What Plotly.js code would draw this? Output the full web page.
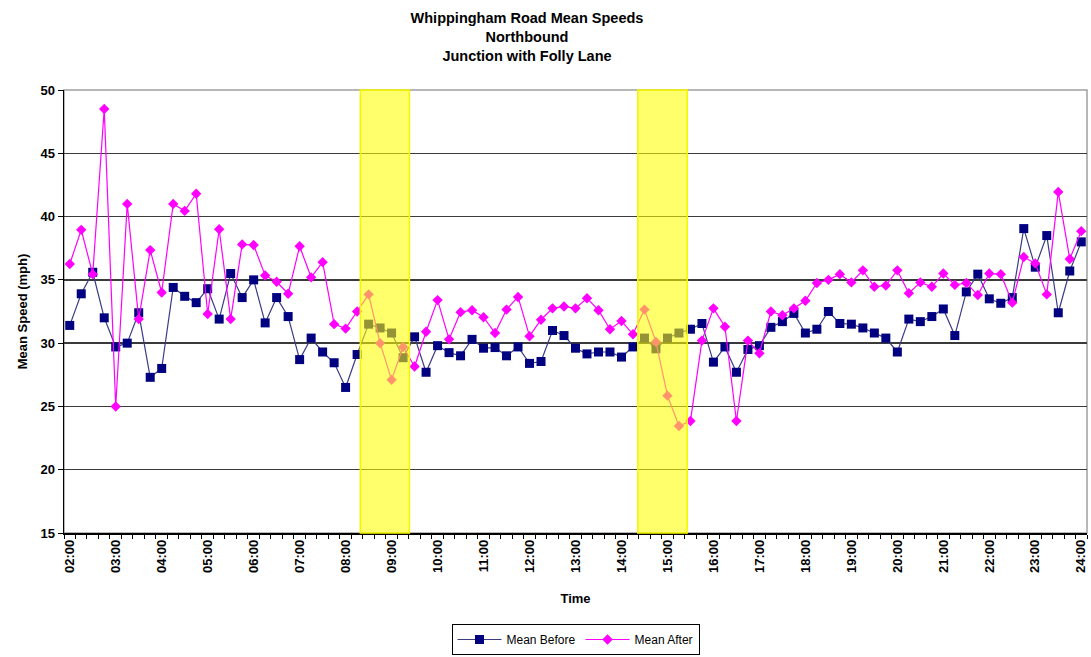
<!DOCTYPE html>
<html>
<head>
<meta charset="utf-8">
<script src="https://cdn.plot.ly/plotly-3.0.1.min.js"></script>
<style>html,body{margin:0;padding:0;background:#fff;}#chart{width:1091px;height:657px;}</style>
</head>
<body>
<div id="chart"></div>
<script>
const times = [
"02:00","02:15","02:30","02:45","03:00","03:15","03:30","03:45",
"04:00","04:15","04:30","04:45","05:00","05:15","05:30","05:45",
"06:00","06:15","06:30","06:45","07:00","07:15","07:30","07:45",
"08:00","08:15","08:30","08:45","09:00","09:15","09:30","09:45",
"10:00","10:15","10:30","10:45","11:00","11:15","11:30","11:45",
"12:00","12:15","12:30","12:45","13:00","13:15","13:30","13:45",
"14:00","14:15","14:30","14:45","15:00","15:15","15:30","15:45",
"16:00","16:15","16:30","16:45","17:00","17:15","17:30","17:45",
"18:00","18:15","18:30","18:45","19:00","19:15","19:30","19:45",
"20:00","20:15","20:30","20:45","21:00","21:15","21:30","21:45",
"22:00","22:15","22:30","22:45","23:00","23:15","23:30","23:45",
"24:00"];

const meanBefore = [
31.4,33.9,35.6,32.0,29.7,30.0,32.4,27.3,
28.0,34.4,33.7,33.2,34.3,31.9,35.5,33.6,
35.0,31.6,33.6,32.1,28.7,30.4,29.3,28.45,
26.5,29.1,31.5,31.2,30.8,28.85,30.5,27.7,
29.8,29.25,29.0,30.3,29.6,29.65,29.0,29.7,
28.4,28.55,31.0,30.6,29.6,29.15,29.3,29.3,
28.9,29.7,30.4,29.55,30.4,30.8,31.1,31.55,
28.5,29.7,27.7,29.5,29.8,31.25,31.7,32.35,
30.8,31.1,32.5,31.55,31.5,31.2,30.8,30.4,
29.3,31.9,31.7,32.1,32.7,30.6,34.05,35.45,
33.5,33.15,33.6,39.05,36.0,38.5,32.4,35.7,
38.0];

const meanAfter = [
36.25,38.95,35.45,48.5,25.0,41.0,31.9,37.35,
34.0,41.0,40.45,41.8,32.3,39.0,31.9,37.8,
37.75,35.35,34.85,33.9,37.65,35.2,36.4,31.5,
31.15,32.5,33.85,30.0,27.1,29.7,28.15,30.9,
33.4,30.3,32.45,32.6,32.05,30.8,32.65,33.65,
30.55,31.85,32.75,32.9,32.75,33.55,32.6,31.1,
31.75,30.7,32.65,30.1,25.85,23.45,23.85,30.2,
32.75,31.3,23.85,30.2,29.2,32.5,32.2,32.75,
33.35,34.75,35.0,35.45,34.8,35.75,34.45,34.55,
35.75,33.95,34.8,34.45,35.5,34.6,34.75,33.8,
35.5,35.45,33.2,36.8,36.3,33.85,41.95,36.65,
38.85];

const tickLabels = ["02:00","03:00","04:00","05:00","06:00","07:00","08:00","09:00",
"10:00","11:00","12:00","13:00","14:00","15:00","16:00","17:00","18:00","19:00",
"20:00","21:00","22:00","23:00","24:00"];

// highlighted periods (category index positions)
const highlightStarts = [25.28, 49.42];
const highlightEnds = [29.55, 53.72];

const FONT = "Liberation Sans, Arial, sans-serif";

const traces = [
  {
    x: times, y: meanBefore, name: "Mean Before", type: "scatter", mode: "lines+markers",
    line: {color: "#3b3b86", width: 1.2},
    marker: {symbol: "square", size: 9, color: "#000080", line: {width: 0}}
  },
  {
    x: times, y: meanAfter, name: "Mean After", type: "scatter", mode: "lines+markers",
    line: {color: "#ff00ff", width: 1.2},
    marker: {symbol: "diamond", size: 8, color: "#ff00ff", line: {width: 0}}
  }
];

const shapes = [
  {type: "rect", xref: "x domain", yref: "y domain", x0: 0, x1: 1, y0: 0, y1: 1,
   line: {color: "#a0a0a0", width: 1.5}, fillcolor: "rgba(0,0,0,0)", layer: "below"}
];
highlightStarts.forEach((s, i) => {
  shapes.push({type: "rect", xref: "x", yref: "y domain", x0: s, x1: highlightEnds[i], y0: 0, y1: 1,
    fillcolor: "rgba(255,255,0,0.58)", line: {color: "#f5f500", width: 1.5}, layer: "above"});
});

const layout = {
  width: 1091, height: 657,
  paper_bgcolor: "#ffffff", plot_bgcolor: "#ffffff",
  margin: {l: 64, r: 4, t: 90, b: 124},
  font: {family: FONT, color: "#000"},
  title: {
    text: "<b>Whippingham Road Mean Speeds<br>Northbound<br>Junction with Folly Lane</b>",
    font: {family: FONT, size: 14.5, color: "#000"},
    x: 527/1091, xref: "container", xanchor: "center",
    y: 0.965, yref: "container", yanchor: "top"
  },
  xaxis: {
    type: "category",
    categoryorder: "array", categoryarray: times,
    range: [-0.5, times.length - 0.5],
    tickmode: "array",
    tickvals: times,
    ticktext: times.map(t => tickLabels.includes(t) ? "<b>" + t + "</b>" : ""),
    tickson: "boundaries",
    tickangle: -90,
    ticks: "outside", ticklen: 4, tickwidth: 1, tickcolor: "#000",
    tickfont: {family: FONT, size: 13, color: "#000"},
    showline: true, linecolor: "#000", linewidth: 1.5,
    showgrid: false, zeroline: false, automargin: false,
    title: {text: "<b>Time</b>", font: {family: FONT, size: 13, color: "#000"}, standoff: 22}
  },
  yaxis: {
    range: [15, 50], dtick: 5, tick0: 15,
    ticks: "outside", ticklen: 5, tickwidth: 1, tickcolor: "#000",
    tickfont: {family: FONT, size: 13, color: "#000"},
    tickprefix: "<b>", ticksuffix: "</b>",
    showline: true, linecolor: "#000", linewidth: 1.5,
    showgrid: true, gridcolor: "#3a3a3a", gridwidth: 1.5,
    zeroline: false, automargin: false,
    title: {text: "<b>Mean Speed (mph)</b>", font: {family: FONT, size: 13, color: "#000"}, standoff: 10}
  },
  showlegend: true,
  legend: {
    orientation: "h", x: 0.5, xanchor: "center",
    xref: "paper", yref: "container", y: 2/657, yanchor: "bottom",
    bordercolor: "#000", borderwidth: 1, bgcolor: "#fff",
    font: {family: FONT, size: 12, color: "#000"},
    itemwidth: 44
  },
  shapes: shapes
};

Plotly.newPlot("chart", traces, layout, {displayModeBar: false, staticPlot: true});
</script>
</body>
</html>
